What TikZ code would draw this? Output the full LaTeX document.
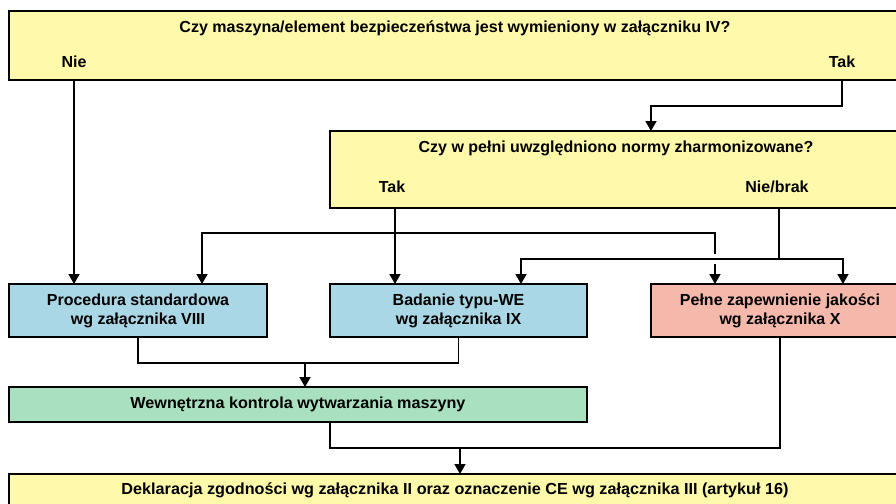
\documentclass[tikz,border=0pt]{standalone}
\usepackage{fontspec}
\usepackage{graphicx}
\setmainfont{Liberation Sans}
\usetikzlibrary{arrows.meta}
\definecolor{ylw}{RGB}{255,249,170}
\definecolor{blu}{RGB}{170,215,229}
\definecolor{pnk}{RGB}{245,185,172}
\definecolor{grn}{RGB}{168,224,192}
\tikzset{
  box/.style={draw=black, line width=1.7pt, inner sep=0pt, outer sep=0pt, align=center,
    font=\fontsize{16}{19}\selectfont\bfseries},
  lbl/.style={inner sep=0pt, font=\fontsize{16}{19}\selectfont\bfseries},
  ln/.style={line width=1.7pt},
  arr/.style={line width=1.7pt, -{Triangle[length=10pt,width=11pt]}}
}
\begin{document}
\begin{tikzpicture}[x=1pt,y=-1pt]
\useasboundingbox (0,0) rectangle (896,503);
\clip (0,0) rectangle (896,503);
\fill[white] (0,0) rectangle (896,503);
% boxes
\node[box, fill=ylw, minimum width=892pt, minimum height=69pt] (q1) at (455,45.5) {};
\node[lbl] (t1) at (455,28) {\resizebox{551pt}{\height}{Czy maszyna/element bezpieczeństwa jest wymieniony w załączniku IV?}};
\node[lbl] (nie) at (74,62) {Nie};
\node[lbl] (tak1) at (842,62) {Tak};
\node[box, fill=ylw, minimum width=572pt, minimum height=77pt] (q2) at (616,169.5) {};
\node[lbl] (t2) at (616,148) {Czy w pełni uwzględniono normy zharmonizowane?};
\node[lbl] (tak2) at (392,187) {Tak};
\node[lbl] (nb) at (777,187) {Nie/brak};
\node[box, fill=blu, minimum width=258pt, minimum height=53pt] (proc) at (138,310.5) {Procedura standardowa\\wg załącznika VIII};
\node[box, fill=blu, minimum width=257pt, minimum height=53pt] (bad) at (458.5,310.5) {Badanie typu-WE\\wg załącznika IX};
\node[box, fill=pnk, minimum width=258pt, minimum height=53pt] (pel) at (780,310.5) {Pełne zapewnienie jakości\\wg załącznika X};
\node[box, fill=grn, minimum width=578pt, minimum height=35pt] (grn) at (298,404.5) {\resizebox{335pt}{\height}{Wewnętrzna kontrola wytwarzania maszyny}};
\node[box, fill=ylw, minimum width=892pt, minimum height=32pt] (dek) at (455,490) {\resizebox{667pt}{\height}{Deklaracja zgodności wg załącznika II oraz oznaczenie CE wg załącznika III (artykuł 16)}};
% coordinates
\coordinate (q2in) at (651,131);
\coordinate (ty) at (395,233);
\coordinate (pa) at (202,284);
\coordinate (hopT) at (715,254);
\coordinate (hopB) at (715,264);
\coordinate (pb) at (715,284);
\coordinate (nb0) at (779,259);
\coordinate (ba) at (521,284);
\coordinate (pc) at (843,284);
\coordinate (m1) at (305,363);
\coordinate (gx) at (330,448);
\coordinate (m2) at (460,448);
% connectors
\draw[arr] (nie |- q1.south) -- (nie |- proc.north);
\draw[arr] (tak1 |- q1.south) -- ++(0,26) -| (q2in);
\draw[arr] (ty |- q2.south) -- (ty |- bad.north);
\draw[arr] (ty) -| (pa);
\draw[ln] (ty) -| (hopT);
\draw[arr] (hopB) -- (pb);
\draw[ln] (nb0 |- q2.south) -- (nb0);
\draw[arr] (nb0) -| (ba);
\draw[arr] (nb0) -| (pc);
\draw[ln] (proc.south) |- (m1);
\draw[ln] (bad.south) |- (m1);
\draw[arr] (m1) -- (m1 |- grn.north);
\draw[ln] (gx |- grn.south) -- (gx) -- (m2);
\draw[ln] (pel.south) |- (m2);
\draw[arr] (m2) -- (m2 |- dek.north);
\end{tikzpicture}
\end{document}
